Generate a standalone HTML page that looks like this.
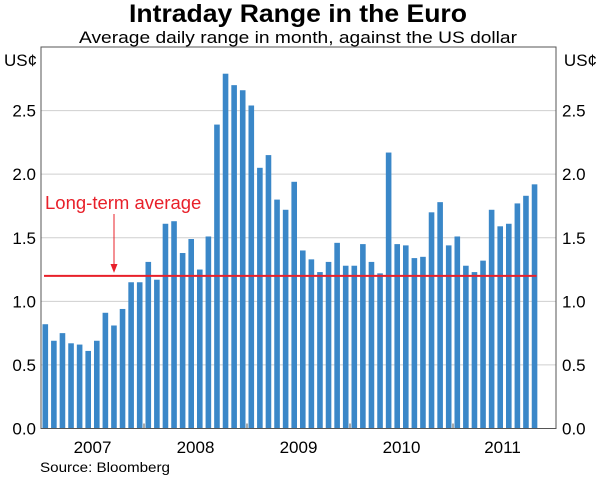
<!DOCTYPE html>
<html><head><meta charset="utf-8"><style>
body{margin:0;background:#fff;}
svg{display:block;font-family:"Liberation Sans",Arial,sans-serif;}
</style></head><body>
<svg id="c" width="600" height="481" viewBox="0 0 600 481">
<text x="298" y="22" text-anchor="middle" font-size="25" font-weight="bold" textLength="338" lengthAdjust="spacingAndGlyphs">Intraday Range in the Euro</text>
<text x="298" y="43" text-anchor="middle" font-size="17" textLength="438" lengthAdjust="spacingAndGlyphs">Average daily range in month, against the US dollar</text>
<text x="4" y="66" font-size="17">US¢</text>
<text x="597" y="66" font-size="17" text-anchor="end">US¢</text>
<g id="grid"></g><g id="bars"></g><g id="ann"></g><g id="axes"></g>
<text x="40" y="472" font-size="14" textLength="130" lengthAdjust="spacingAndGlyphs">Source: Bloomberg</text>
</svg>
<script>
const years=["2007","2008","2009","2010","2011"];
const yTicks=[0,0.5,1,1.5,2,2.5];
const yTickLabels=["0.0","0.5","1.0","1.5","2.0","2.5"];
const values=[0.82,0.69,0.75,0.67,0.66,0.61,0.69,0.91,0.81,0.94,1.15,1.15,
1.31,1.17,1.61,1.63,1.38,1.49,1.25,1.51,2.39,2.79,2.70,2.66,
2.54,2.05,2.15,1.80,1.72,1.94,1.40,1.33,1.23,1.31,1.46,1.28,
1.28,1.45,1.31,1.22,2.17,1.45,1.44,1.34,1.35,1.70,1.78,1.44,
1.51,1.28,1.23,1.32,1.72,1.59,1.61,1.77,1.83,1.92];
const average=[1.2];
const NS="http://www.w3.org/2000/svg";
const L=41,R=556,T=47,B=428.5,yMax=3,months=60;
const mw=(R-L)/months;
const X=i=>L+mw*(i+0.5);
const Y=v=>B-(v/yMax)*(B-T);
function mk(tag,attrs,parent){const e=document.createElementNS(NS,tag);for(const k in attrs)e.setAttribute(k,attrs[k]);document.getElementById(parent).appendChild(e);return e;}
yTicks.forEach((t,i)=>{
 if(t>0){const g=mk('line',{x1:L,x2:R,y1:Y(t),y2:Y(t),stroke:'#cfcfcf','stroke-width':1},'grid');
 
 }
 const a=mk('text',{x:36,y:Y(t)+6,'text-anchor':'end','font-size':17},'axes');a.textContent=yTickLabels[i];
 
 
 const b=mk('text',{x:562,y:Y(t)+6,'font-size':17},'axes');b.textContent=yTickLabels[i];
 
 
});
values.forEach((v,i)=>{
 const r=mk('rect',{x:X(i)-2.8,y:Y(v),width:5.6,height:B-Y(v),fill:'#3a87c8'},'bars');
 
 
});
const ay=Y(average[0]);
const al=mk('line',{x1:44,x2:X(values.length-1)+2,y1:ay,y2:ay,stroke:'#e8202a','stroke-width':2},'ann');


const lt=mk('text',{x:45,y:209,'font-size':18.5,fill:'#e8202a'},'ann');lt.textContent='Long-term average';


const ar=mk('line',{x1:114,x2:114,y1:214,y2:265,stroke:'#e8202a','stroke-width':1},'ann');


const ah=mk('path',{d:`M110.5,264 L117.5,264 L114,${ay-3} Z`,fill:'#e8202a'},'ann');


const fr=mk('rect',{x:L,y:T,width:R-L,height:B-T,fill:'none',stroke:'#555','stroke-width':1},'axes');


years.forEach((y,i)=>{
 if(i>0){const tk=mk('line',{x1:L+mw*12*i,x2:L+mw*12*i,y1:B-5,y2:B,stroke:'#555'},'axes');
 
 }
 const t=mk('text',{x:L+mw*12*(i+0.5)+(i==4?-2:0),y:453,'text-anchor':'middle','font-size':17},'axes');t.textContent=y;
 
 
});
</script>
</body></html>
